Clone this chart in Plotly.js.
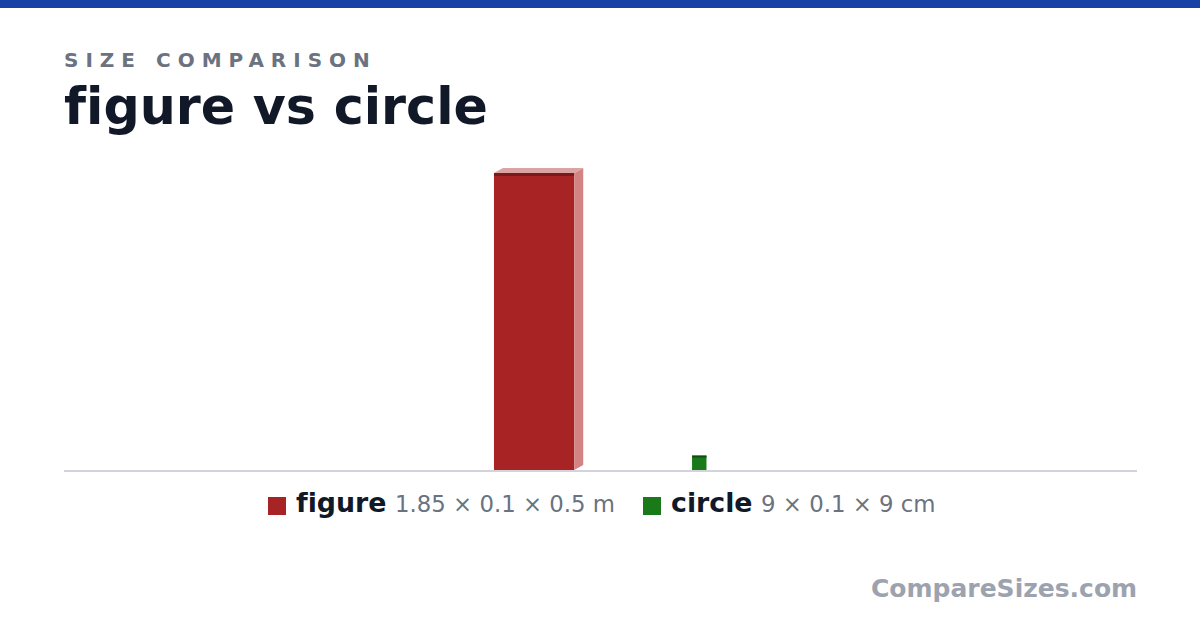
<!DOCTYPE html>
<html>
<head>
<meta charset="utf-8">
<script src="https://cdn.plot.ly/plotly-3.0.1.min.js"></script>
<style>
  html, body { margin: 0; padding: 0; background: #ffffff; }
  #chart { width: 1200px; height: 630px; }
  #chart text {
    font-variant-ligatures: none !important;
    font-feature-settings: "liga" 0, "clig" 0 !important;
    text-rendering: optimizeSpeed !important;
  }
  g.annotation[data-index="0"] text { letter-spacing: 7px; }
</style>
</head>
<body>
<div id="chart"></div>
<script>
// size comparison: two objects drawn as boxes on a metre scale

var names = ['figure', 'circle'];
var heights = [1.85, 0.09];     // m
var widths = [0.5, 0.09];       // m
var depths = [0.1, 0.001];      // m
var dimLabels = ['1.85 × 0.1 × 0.5 m', '9 × 0.1 × 9 cm'];
var colors = ['#a82324', '#1a7a1a'];
var sideColors = ['#d48383', '#5fa35f'];
var topColors = ['#dca3a3', '#8fc08f'];
var bandColors = ['#7a1a1a', '#0f4f12'];

// layout helpers (not data)
var boxLeft = [2.679, 3.913];   // left edge of each front face, m
var pxPerM = 160.5;
var plotL = 64, plotR = 1137, plotT = 150, plotB = 470;
var xMax = (plotR - plotL) / pxPerM;
var yMax = (plotB - plotT) / pxPerM;
var skewX = 0.56, skewY = 0.31;

function px(xp) { return (xp - plotL) / (plotR - plotL); }
function py(yp) { return (plotB - yp) / (plotB - plotT); }

var traces = [];
var i;

for (i = 0; i < names.length; i++) {
    var L = boxLeft[i], w = widths[i], h = heights[i];
    var dx = depths[i] * skewX, dy = depths[i] * skewY;
    var band = Math.min(0.019, h * 0.14);

    // side face
    traces.push({
        x: [L + w, L + w, L + w + dx, L + w + dx, L + w],
        y: [0, h, h + dy, dy, 0],
        type: 'scatter', mode: 'lines', fill: 'toself',
        fillcolor: sideColors[i], line: {width: 0},
        hoverinfo: 'skip', showlegend: false
    });
    // top face
    traces.push({
        x: [L, L + w, L + w + dx, L + dx, L],
        y: [h, h, h + dy, h + dy, h],
        type: 'scatter', mode: 'lines', fill: 'toself',
        fillcolor: topColors[i], line: {width: 0},
        hoverinfo: 'skip', showlegend: false
    });
    // front face
    traces.push({
        x: [L + w / 2], y: [h], width: [w], base: [0],
        type: 'bar', marker: {color: colors[i], line: {width: 0}},
        hoverinfo: 'skip', showlegend: false
    });
    // dark top edge
    traces.push({
        x: [L + w / 2], y: [band], width: [w], base: [h - band],
        type: 'bar', marker: {color: bandColors[i], line: {width: 0}},
        hoverinfo: 'skip', showlegend: false
    });
}

var font = 'DejaVu Sans, Verdana, sans-serif';

var annotations = [
    {
        text: '<b>SIZE COMPARISON</b>', xref: 'paper', yref: 'paper',
        x: px(62), y: py(60), xanchor: 'left', yanchor: 'middle', align: 'left',
        showarrow: false, font: {family: font, size: 20, color: '#6b7280'}
    },
    {
        text: '<b>figure vs circle</b>', xref: 'paper', yref: 'paper',
        x: px(62), y: py(106), xanchor: 'left', yanchor: 'middle', align: 'left',
        showarrow: false, font: {family: font, size: 50.7, color: '#111827'}
    },
    {
        text: '<b>CompareSizes.com</b>', xref: 'paper', yref: 'paper',
        x: px(1139), y: py(588), xanchor: 'right', yanchor: 'middle', align: 'right',
        showarrow: false, font: {family: font, size: 25, color: '#9ca3af'}
    }
];

var legendSwatchX = [268, 643];
var legendTextX = [294, 669];
var shapes = [
    {
        type: 'rect', xref: 'paper', yref: 'paper',
        x0: px(0), x1: px(1200), y0: py(8), y1: py(0),
        fillcolor: '#1741a6', line: {width: 0}, layer: 'above'
    }
];

for (i = 0; i < names.length; i++) {
    shapes.push({
        type: 'rect', xref: 'paper', yref: 'paper',
        x0: px(legendSwatchX[i]), x1: px(legendSwatchX[i] + 18),
        y0: py(515), y1: py(497),
        fillcolor: colors[i], line: {width: 0}
    });
    annotations.push({
        text: '<b>' + names[i] + '</b> <span style="font-size:22.8px;color:#6b7280">' + dimLabels[i] + '</span>',
        xref: 'paper', yref: 'paper',
        x: px(legendTextX[i]), y: py(502.5), xanchor: 'left', yanchor: 'middle', align: 'left',
        showarrow: false, font: {family: font, size: 26.8, color: '#111827'}
    });
}

var layout = {
    width: 1200,
    height: 630,
    margin: {l: plotL, r: 1200 - plotR, t: plotT, b: 630 - plotB, pad: 0},
    paper_bgcolor: '#ffffff',
    plot_bgcolor: '#ffffff',
    showlegend: false,
    barmode: 'overlay',
    xaxis: {
        range: [0, xMax], showgrid: false, zeroline: false,
        showticklabels: false, ticks: '', fixedrange: true,
        showline: true, linecolor: '#d1d5db', linewidth: 2
    },
    yaxis: {
        range: [0, yMax], showgrid: false, zeroline: false,
        showticklabels: false, ticks: '', fixedrange: true, showline: false
    },
    annotations: annotations,
    shapes: shapes
};

Plotly.newPlot('chart', traces, layout, {displayModeBar: false, staticPlot: true});
</script>
</body>
</html>
